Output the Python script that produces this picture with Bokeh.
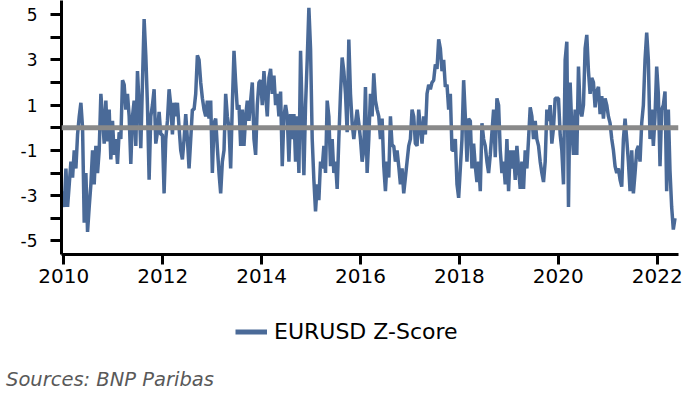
import numpy as np
from bokeh.plotting import figure
from bokeh.layouts import column
from bokeh.models import Range1d, FixedTicker, Span, Legend, LegendItem, Div
from bokeh.embed import file_html
from bokeh.resources import INLINE

SERIES_NAME = "EURUSD Z-Score"
SOURCE_NOTE = "Sources: BNP Paribas"

# observation window (decimal years) of the evenly spaced series
FIRST_OBS = 2009.975
LAST_OBS = 2022.36

ZSCORE = [
    # 2010 - mid 2013
    -2.8, -3.5, -1.8, -3.5, -2.5, -1.5, -2.2, -1.0, -1.8, -0.3,
    0.5, 1.1, 0.0, -4.2, -2.0, -4.6, -3.5, -2.5, -1.0, -2.5,
    -0.8, -2.0, -1.0, 1.5, 0.5, -0.7, 1.2, -0.6, 0.8, -1.4,
    0.3, -1.2, -0.5, -1.6, -0.2, -0.5, 2.1, 1.9, 0.8, 1.5,
    0.5, -1.6, 0.5, 1.2, -0.8, 2.5, 1.0, -0.9, 2.0, 4.8,
    3.2, 1.0, -2.3, 0.5, 1.0, 1.7, -0.7, -0.2, 0.7, -0.3,
    -0.3, -2.9, -0.5, 0.3, 1.7, 1.0, -0.3, 1.1, 0.5, 1.1,
    0.0, -1.0, -1.4, -0.5, 0.6, -0.5, -1.8, -0.5, 0.8, 0.8,
    1.5, 3.2, 3.0, 2.0, 1.3, 0.8, 0.5, 1.2, 0.4, 1.2,
    -2.0, 0.2, 0.4, -0.9, -2.0,
    # mid 2013 - mid 2017
    -2.9, -1.5, -1.0, 1.5, 0.5, 0.0, -1.8, 1.0, 3.4, 2.0,
    0.8, 1.0, -0.8, 0.8, -0.8, 0.5, 1.2, 0.3, 1.2, 2.0,
    -0.5, -1.2, 1.0, 2.0, 2.1, 1.0, 2.5, 1.5, 0.5, 2.2,
    2.6, 1.5, 2.3, 1.0, 1.5, 0.5, 1.6, -1.7, 0.5, 1.0,
    0.5, -1.5, 0.6, -0.5, 0.6, -1.5, 0.5, -2.0, 3.4, 0.5,
    -2.1, 1.0, 3.0, 5.3, 3.5, -0.5, -2.3, -3.7, -2.5, -3.2,
    -1.5, -1.8, -0.8, -2.0, 1.2, 0.5, -1.7, -0.5, -2.0, -1.5,
    -2.7, -0.5, 1.5, 3.1, 2.5, 1.5, -0.2, 3.9, 1.5, 0.2,
    -0.5, 0.2, 0.8, 0.2, -0.5, -1.5, -1.0, 1.8, -2.0, -0.5,
    1.5, 0.5, 2.4, 1.2, 0.8, 0.5, -0.5, 0.4, -1.7, -2.8,
    -1.5, -2.2, 0.5, -0.8, -0.8, -1.5, -1.0, -1.7, -2.5, -1.8,
    -2.9, -2.2, -1.5, -0.8, -0.5, 0.8, 0.5, -0.7, -0.8, 0.8,
    0.0, -0.7, 0.5, -0.3, 1.5, 1.9, 1.7, 2.0, 2.1, 2.8,
    2.6, 3.9,
    # mid 2017 - 2022
    3.5, 2.5, 3.0, 1.8, 1.9, 0.8, 1.5, -1.0, -1.0, -0.5,
    -2.5, -3.1, -1.8, -0.5, 2.1, 0.5, -1.5, 0.4, 0.3, -1.8,
    -0.7, -1.7, -2.4, -1.5, -2.8, 0.2, -0.5, -0.8, -1.5, -2.0,
    -1.2, -0.2, 0.8, -1.3, 1.3, 1.0, -1.0, -2.0, -1.5, -2.5,
    -0.5, -2.8, -1.0, -1.8, -1.0, -2.3, -0.8, -1.8, -2.7, -1.5,
    -2.7, -1.0, -1.8, -0.5, 0.9, 0.5, -0.5, 0.3, -0.5, -0.8,
    -1.5, -2.0, -2.4, -1.5, 0.8, 0.3, 1.0, -0.7, 0.0, 1.3,
    1.3, 1.3, -0.3, -1.0, -2.5, 3.0, 3.8, -3.5, 2.0, 0.0,
    -1.2, 0.8, -1.2, 2.7, 0.8, 0.5, 1.0, 3.5, 4.1, 2.5,
    1.5, 2.2, 2.0, 0.9, 1.6, 1.8, 0.6, 1.4, 0.4, 1.3,
    1.0, 0.5, 0.2, -0.5, -1.0, -1.7, -2.0, -1.8, -2.3, -2.6,
    -0.5, 0.4, -0.5, -1.5, -2.8, -1.0, -2.9, -2.0, -1.0, -0.8,
    -1.5, 0.2, 1.0, 3.0, 4.2, 3.0, -0.5, 0.8, -0.8, 0.5,
    2.7, 1.5, -1.7, 0.8, 1.0, 1.6, -2.8, 0.8, -1.9, -3.5,
    -4.5, -4.0,
]

X_TICKS = [2010, 2012, 2014, 2016, 2018, 2020, 2022]
X_TICK_LABELS = ["2010", "2012", "2014", "2016", "2018", "2020", "2022"]
Y_TICKS = [-5, -3, -1, 1, 3, 5]
Y_TICK_LABELS = ["-5", "-3", "-1", "1", "3", "5"]
Y_MINOR_TICKS = [-4, -2, 0, 2, 4]

BLUE = "#4a6a98"
GREY = "#898989"
FONT = "DejaVu Sans"

years = np.linspace(FIRST_OBS, LAST_OBS, len(ZSCORE))

# ---------------- main chart ----------------
p = figure(
    width=691, height=298,
    output_backend="svg", toolbar_location=None,
    x_range=Range1d(2009.953, 2022.431),
    y_range=Range1d(-5.60, 5.62),
    min_border_left=61, min_border_right=13,
    min_border_top=0, min_border_bottom=44,
)
p.outline_line_color = None
p.xgrid.visible = False
p.ygrid.visible = False
p.background_fill_color = "white"
p.border_fill_color = "white"

r = p.line(years, ZSCORE, line_color=BLUE, line_width=3.5)

p.add_layout(Span(location=0, dimension="width", line_color=GREY, line_width=5))

xa = p.xaxis[0]
xa.ticker = FixedTicker(ticks=X_TICKS)
xa.major_label_overrides = dict(zip(X_TICKS, X_TICK_LABELS))
xa.axis_line_width = 3
xa.axis_line_color = "black"
xa.major_tick_line_width = 3
xa.major_tick_line_color = "black"
xa.major_tick_out = 10
xa.major_tick_in = 0
xa.minor_tick_line_color = None
xa.major_label_text_font = FONT
xa.major_label_text_font_size = "20px"
xa.major_label_text_color = "black"
xa.major_label_standoff = 4

ya = p.yaxis[0]
ya.ticker = FixedTicker(ticks=Y_TICKS, minor_ticks=Y_MINOR_TICKS)
ya.major_label_overrides = dict(zip(Y_TICKS, Y_TICK_LABELS))
ya.axis_line_width = 3
ya.axis_line_color = "black"
ya.major_tick_line_width = 3
ya.major_tick_line_color = "black"
ya.major_tick_out = 11
ya.major_tick_in = 0
ya.minor_tick_line_width = 3
ya.minor_tick_line_color = "black"
ya.minor_tick_out = 11
ya.minor_tick_in = 0
ya.major_label_text_font = FONT
ya.major_label_text_font_size = "17px"
ya.major_label_text_color = "black"
ya.major_label_standoff = 13

# ---------------- legend strip ----------------
f = figure(
    width=691, height=65,
    output_backend="svg", toolbar_location=None,
    x_axis_location=None, y_axis_location=None,
    x_range=Range1d(0, 1), y_range=Range1d(0, 1),
    min_border_left=0, min_border_right=0,
    min_border_top=0, min_border_bottom=0,
)
f.outline_line_color = None
f.xgrid.visible = False
f.ygrid.visible = False
f.background_fill_color = "white"
f.border_fill_color = "white"

key = f.line(x=np.array([np.nan]), y=np.array([np.nan]), line_color=BLUE, line_width=5)

legend = Legend(
    items=[LegendItem(label=SERIES_NAME, renderers=[key])],
    orientation="horizontal",
    location=(174, 18),
    label_text_font=FONT,
    label_text_font_size="22px",
    label_text_color="black",
    label_standoff=7,
    glyph_width=32,
    glyph_height=27,
    padding=0,
    margin=0,
    spacing=0,
    border_line_color=None,
    background_fill_alpha=0,
)
f.add_layout(legend, "center")

# ---------------- source note ----------------
note = Div(
    text=SOURCE_NOTE, width=691, height=31,
    styles={
        "font-family": FONT,
        "font-style": "italic",
        "font-size": "19.5px",
        "color": "#595959",
        "padding-left": "1px",
        "line-height": "normal",
        "white-space": "nowrap",
    },
)

layout = column(p, f, note, spacing=0)
open("out.html", "w").write(file_html(layout, INLINE))
